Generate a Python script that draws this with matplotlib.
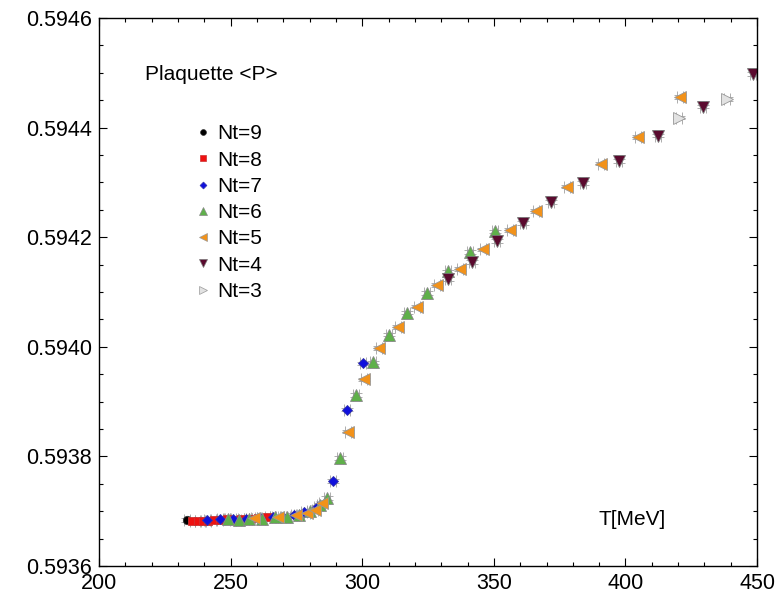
import numpy as np
import matplotlib
matplotlib.use("Agg")
import matplotlib.pyplot as plt
from matplotlib.lines import Line2D
from matplotlib.ticker import MultipleLocator, FormatStrFormatter

plt.rcParams['font.family'] = ['Liberation Sans', 'DejaVu Sans']

# data: temperature [MeV] and plaquette value
T9 = [233.5]
P9 = [0.593684]

T8 = [235.5, 237.5, 239.5, 241.5, 243.5, 246, 248.5, 251, 254, 257, 260.5, 264]
P8 = [0.593683, 0.593682, 0.593683, 0.593682, 0.593684, 0.593684, 0.593685,
      0.593684, 0.593686, 0.593686, 0.593688, 0.593689]

T7 = [241, 246, 251, 256, 261, 266, 270, 274, 278, 282.8, 288.9, 294.2, 300.3]
P7 = [0.593684, 0.593685, 0.593686, 0.593686, 0.593688, 0.593690, 0.593690,
      0.593694, 0.593699, 0.593708, 0.593755, 0.593885, 0.593970]

T6 = [249, 253, 257, 262, 266.9, 271.4, 276, 280, 284, 286.6, 291.6, 297.6,
      304.1, 310.2, 317.0, 324.6, 332.6, 341.0, 350.5]
P6 = [0.593685, 0.593684, 0.593686, 0.593686, 0.593689, 0.593690, 0.593693,
      0.593700, 0.593712, 0.593724, 0.593797, 0.593912, 0.593972, 0.594022,
      0.594062, 0.594098, 0.594138, 0.594173, 0.594211]

T5 = [259, 268, 275, 279.0, 282, 284.7, 294.6, 300.7, 306.5, 313.6, 320.8,
      328.4, 337.2, 345.9, 356.2, 366.0, 377.8, 390.7, 404.8, 420.7]
P5 = [0.593687, 0.593690, 0.593693, 0.593697, 0.593703, 0.593715, 0.593845,
      0.593941, 0.593998, 0.594036, 0.594073, 0.594113, 0.594142, 0.594178,
      0.594213, 0.594248, 0.594292, 0.594334, 0.594383, 0.594456]

T4 = [332.6, 341.7, 351.2, 361.1, 371.7, 383.9, 397.6, 412.4, 429.5, 448.5]
P4 = [0.594124, 0.594155, 0.594193, 0.594226, 0.594264, 0.594299, 0.594339,
      0.594385, 0.594438, 0.594498]

T3 = [420.4, 438.6]
P3 = [0.594418, 0.594452]

labels = ["Nt=9", "Nt=8", "Nt=7", "Nt=6", "Nt=5", "Nt=4", "Nt=3"]

terr = 1.1
perr = 0.000003

series = [
    (T9, P9, 'o', '#000000', '#333333'),
    (T8, P8, 's', '#ee1111', '#cc3333'),
    (T7, P7, 'D', '#1010dd', '#3333aa'),
    (T6, P6, '^', '#5fb04a', '#888888'),
    (T5, P5, '<', '#f2921a', '#999999'),
    (T4, P4, 'v', '#5a0a2e', '#777777'),
    (T3, P3, '>', '#e2e2e2', '#999999'),
]
sizes = [6, 6, 5, 8, 8, 8, 9]

fig = plt.figure(figsize=(7.77, 5.99), dpi=100)
ax = fig.add_axes([0.1274, 0.055, 0.847, 0.915])

handles = []
for (t, p, m, c, ec), lab, ms in zip(series, labels, sizes):
    ax.errorbar(t, p, xerr=terr, yerr=perr, fmt=m, ms=ms, mfc=c, mec=ec,
                mew=0.6, ecolor='#a0a0a0', elinewidth=0.8, capsize=4,
                capthick=0.8)
    handles.append(Line2D([], [], ls='none', marker=m, ms=ms * 0.7,
                          mfc=c, mec=ec, mew=0.5, label=lab))

ax.set_xlim(200, 450)
ax.set_ylim(0.5936, 0.5946)
ax.xaxis.set_major_locator(MultipleLocator(50))
ax.xaxis.set_minor_locator(MultipleLocator(10))
ax.yaxis.set_major_locator(MultipleLocator(0.0002))
ax.yaxis.set_minor_locator(MultipleLocator(0.00005))
ax.yaxis.set_major_formatter(FormatStrFormatter('%.4f'))
ax.tick_params(which='both', direction='in', top=True, right=True,
               labelsize=15.5, width=0.8)
ax.tick_params(which='major', length=6, pad=5)
ax.tick_params(which='minor', length=3)
for s in ax.spines.values():
    s.set_linewidth(1.0)

fig.text(0.187, 0.875, "Plaquette <P>", fontsize=15, va='center')
fig.text(0.77, 0.133, "T[MeV]", fontsize=15, va='center')

fig.legend(handles=handles, loc='upper left', bbox_to_anchor=(0.24, 0.81),
           frameon=False, fontsize=15, handlelength=0.6, handletextpad=0.4,
           labelspacing=0.35, borderpad=0)

fig.savefig("out.png", dpi=100)
